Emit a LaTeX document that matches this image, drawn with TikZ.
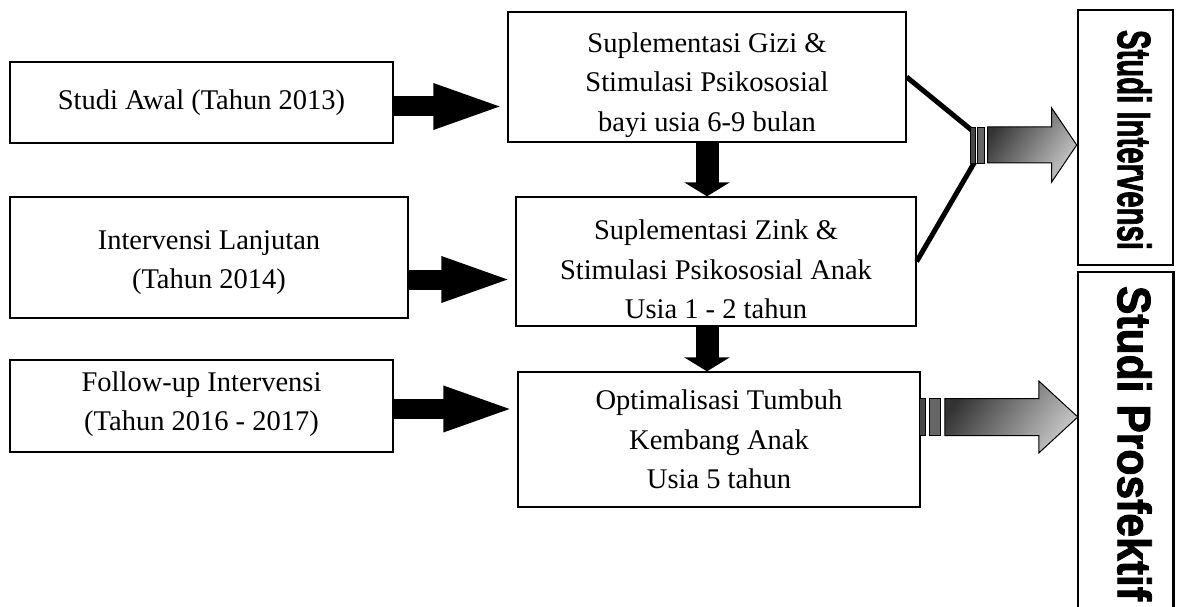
\documentclass[tikz,border=0pt]{standalone}
\usepackage{fontspec}
\usepackage{graphicx}
\setmainfont{Liberation Serif}
\newfontfamily\headfont{Liberation Sans}[BoldFeatures={FakeBold=2}]
\usetikzlibrary{arrows.meta,calc}
\begin{document}
\begin{tikzpicture}[x=1pt,y=-1pt,
  box/.style={draw, line width=1.3pt, inner sep=0pt},
  txt/.style={align=center, inner sep=0pt, font=\fontsize{28.5}{39.5}\selectfont},
  sidebox/.style={line width=2.6pt},
  sidetxt/.style={rotate=-90, inner sep=0pt},
  harrow/.style={line width=20pt, -{Triangle[length=74pt,width=40pt]}},
  varrow/.style={line width=23pt, -{Triangle[length=14pt,width=45pt]}},
  link/.style={line width=5pt},
  bar/.style={draw=black, line width=0.8pt},
  garrow/.style={draw=black, line width=1pt, top color=black!80, bottom color=black!22, shading angle=55},
]
\useasboundingbox (0,0) rectangle (1179,607);
% boxes
\node[box, minimum width=383pt, minimum height=81pt]  (A) at (201.5,102.5) {};
\node[box, minimum width=398pt, minimum height=130pt] (B) at (707,77) {};
\node[box, minimum width=398pt, minimum height=121pt] (C) at (209,257.5) {};
\node[box, minimum width=400pt, minimum height=129pt] (D) at (716,261.5) {};
\node[box, minimum width=383pt, minimum height=92pt]  (E) at (201.5,406) {};
\node[box, minimum width=402pt, minimum height=135pt] (F) at (719,439.5) {};
\node[draw, sidebox, minimum width=95pt, minimum height=255pt, inner sep=0pt] (G) at (1125.5,137.5) {};
\node[minimum width=95pt, minimum height=335pt, inner sep=0pt] (H) at (1125.5,439.5) {};
\draw[sidebox] (H.south west) -- (H.north west) -- (H.north east) -- (H.south east);
% texts
\node[txt] (At) at (A.center) {Studi Awal (Tahun 2013)};
\node[txt] (Bt) at ($(B.center)+(0,8)$) {Suplementasi Gizi \&\\Stimulasi Psikososial\\bayi usia 6-9 bulan};
\node[txt] (Ct) at ($(C.center)+(0,5)$) {Intervensi Lanjutan\\(Tahun 2014)};
\node[txt] (Dt) at ($(D.center)+(0,8)$) {Suplementasi Zink \&\\Stimulasi Psikososial Anak\\Usia 1 - 2 tahun};
\node[txt] (Et) at ($(E.center)+(0,-2)$) {Follow-up Intervensi\\(Tahun 2016 - 2017)};
\node[txt] (Ft) at (F.center) {Optimalisasi Tumbuh\\Kembang Anak\\Usia 5 tahun};
\node[sidetxt] (Gt) at ($(G.center)+(9,2.5)$) {\resizebox{220pt}{34pt}{\headfont\bfseries Studi Intervensi}};
\node[sidetxt] (Ht) at ($(H.center)+(9,4)$) {\resizebox{315pt}{34pt}{\headfont\bfseries Studi Prosfektif}};
% horizontal block arrows
\draw[harrow] ($(A.east)+(0,4)$) -- ($(A.east -| B.west)+(0,4)$);
\draw[harrow] ($(C.east)+(0,22)$) -- ($(C.east -| D.west)+(0,22)$);
\draw[harrow] ($(E.east)+(0,3)$) -- ($(E.east -| F.west)+(0,3)$);
% vertical block arrows
\draw[varrow] (B.south) -- (B.south |- D.north);
\draw[varrow] (D.south -| B.south) -- (B.south |- F.north);
% top gradient arrow with links
\coordinate (g1) at ($(G.west)+(0,7.5)$);
\draw[link] (B.east) -- ($(g1)+(-104,-14)$);
\draw[link] (D.east) -- ($(g1)+(-102,17)$);
\draw[bar, fill=black!72] ($(g1)+(-106,-18)$) rectangle ($(g1)+(-101,18)$);
\draw[bar, fill=black!60] ($(g1)+(-99,-18)$) rectangle ($(g1)+(-92,18)$);
\path[garrow] ($(g1)+(-89,-18)$) -- ($(g1)+(-25,-18)$) -- ($(g1)+(-25,-37)$) -- (g1)
  -- ($(g1)+(-25,37)$) -- ($(g1)+(-25,18)$) -- ($(g1)+(-89,18)$) -- cycle;
% bottom gradient arrow
\coordinate (g2) at ($(H.west)+(0,-22.5)$);
\draw[bar, fill=black!72] ($(g2)+(-158,-18.5)$) rectangle ($(g2)+(-152,18.5)$);
\draw[bar, fill=black!60] ($(g2)+(-148,-18.5)$) rectangle ($(g2)+(-137,18.5)$);
\path[garrow] ($(g2)+(-133,-18.5)$) -- ($(g2)+(-39,-18.5)$) -- ($(g2)+(-39,-36)$) -- (g2)
  -- ($(g2)+(-39,36)$) -- ($(g2)+(-39,18.5)$) -- ($(g2)+(-133,18.5)$) -- cycle;
\end{tikzpicture}
\end{document}
